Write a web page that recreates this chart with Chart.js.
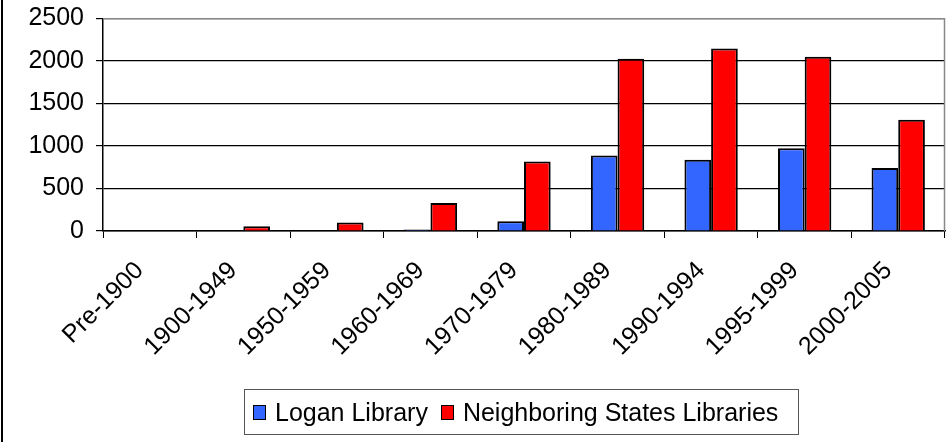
<!DOCTYPE html>
<html>
<head>
<meta charset="utf-8">
<script src="https://cdn.jsdelivr.net/npm/chart.js@4"></script>
<style>
    html, body { margin: 0; padding: 0; background: #fff; }
    #wrap { position: relative; width: 948px; height: 442px; overflow: hidden; }
    #frame { position: absolute; left: 1px; top: 0; width: 2px; height: 442px; background: #000; }
    #legend {
        position: absolute; left: 244px; top: 389px; width: 553px; height: 44px;
        border: 1px solid #555; display: flex; align-items: center;
        font-family: 'Liberation Sans', Arial, sans-serif; font-size: 25px; color: #000;
        box-sizing: content-box;
    }
    #legend .box { width: 11px; height: 13px; border: 1.5px solid #000; display: inline-block; margin-right: 9px; }
    #legend .item { display: flex; align-items: center; }
</style>
</head>
<body>
<div id="wrap">
    <canvas id="libChart"></canvas>
    <div id="frame"></div>
    <div id="legend"></div>
</div>
<script>
const periods = ['Pre-1900', '1900-1949', '1950-1959', '1960-1969', '1970-1979', '1980-1989', '1990-1994', '1995-1999', '2000-2005'];
const loganLibrary = [0, 0, 0, 18, 115, 888, 838, 973, 740];
const neighboringStates = [0, 55, 100, 330, 818, 2025, 2146, 2048, 1308];
const yTicks = [0, 500, 1000, 1500, 2000, 2500];

const seriesNames = ['Logan Library', 'Neighboring States Libraries'];
const seriesColors = ['#3366FF', '#FF0000'];

// gray border on top and right of the plot area
const plotFrame = {
    id: 'plotFrame',
    afterDraw(chart) {
        const a = chart.chartArea;
        const ctx = chart.ctx;
        ctx.save();
        ctx.strokeStyle = '#888';
        ctx.lineWidth = 1.5;
        ctx.beginPath();
        ctx.moveTo(a.left, a.top + 0.5);
        ctx.lineTo(a.right - 0.5, a.top + 0.5);
        ctx.lineTo(a.right - 0.5, a.bottom);
        ctx.stroke();
        ctx.restore();
    }
};

const font = "'Liberation Sans', Arial, sans-serif";

new Chart(document.getElementById('libChart'), {
    type: 'bar',
    data: {
        labels: periods,
        datasets: [
            {
                label: seriesNames[0],
                data: loganLibrary,
                backgroundColor: seriesColors[0],
                borderColor: '#000',
                borderWidth: 2
            },
            {
                label: seriesNames[1],
                data: neighboringStates,
                backgroundColor: seriesColors[1],
                borderColor: '#000',
                borderWidth: 2
            }
        ]
    },
    options: {
        responsive: true,
        maintainAspectRatio: false,
        animation: false,
        datasets: { bar: { categoryPercentage: 0.57, barPercentage: 1.0 } },
        layout: { padding: { top: 17, right: 3, left: 0, bottom: 0 } },
        scales: {
            x: {
                grid: { offset: true, drawOnChartArea: false, color: '#000', tickLength: 7 },
                border: { color: '#000', width: 1.5 },
                ticks: {
                    color: '#000', font: { family: font, size: 25 },
                    maxRotation: 45, minRotation: 45, padding: 18, labelOffset: -10
                },
                afterFit(scale) { scale.height = 442 - 231; }
            },
            y: {
                min: 0, max: 2500,
                afterBuildTicks(scale) { scale.ticks = yTicks.map(v => ({ value: v })); },
                grid: {
                    color: ctx => ctx.tick && ctx.tick.value === 2500 ? '#888' : '#000',
                    tickColor: '#000', tickLength: 7, lineWidth: 1.2
                },
                border: { color: '#000', width: 1.5 },
                ticks: {
                    color: '#000', font: { family: font, size: 25, lineHeight: 0.5 }, padding: 12,
                    callback: v => String(v)
                },
                afterFit(scale) { scale.width = 103; }
            }
        },
        plugins: {
            legend: { display: false },
            tooltip: { enabled: false }
        }
    },
    plugins: [plotFrame]
});

// legend drawn as html below the chart
const legendEl = document.getElementById('legend');
seriesNames.forEach((name, i) => {
    const item = document.createElement('span');
    item.className = 'item';
    item.style.marginLeft = i === 0 ? '8px' : '13px';
    const box = document.createElement('span');
    box.className = 'box';
    box.style.background = seriesColors[i];
    item.appendChild(box);
    item.appendChild(document.createTextNode(name));
    legendEl.appendChild(item);
});
</script>
</body>
</html>
